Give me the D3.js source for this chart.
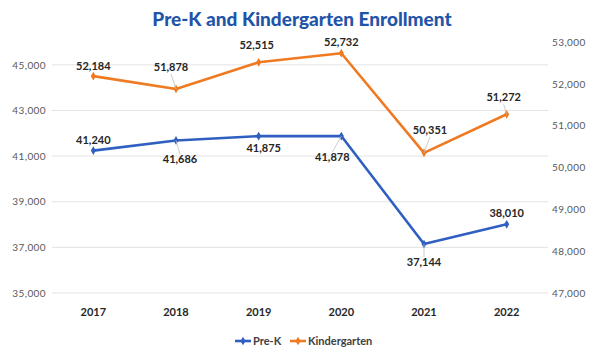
<!DOCTYPE html>
<html><head><meta charset="utf-8">
<script src="https://cdn.jsdelivr.net/npm/d3@7"></script>
<style>body{margin:0;background:#fff}svg{display:block}</style>
</head><body>
<svg id="c" width="600" height="357"></svg>
<script>
const years = ["2017","2018","2019","2020","2021","2022"];
const preK = [41240, 41686, 41875, 41878, 37144, 38010];
const kinder = [52184, 51878, 52515, 52732, 50351, 51272];
const leftTicks = [35000, 37000, 39000, 41000, 43000, 45000];
const rightTicks = [47000, 48000, 49000, 50000, 51000, 52000, 53000];
const title = "Pre-K and Kindergarten Enrollment";
// label offsets (layout only)
const preKOff = [[0,-7],[4,23],[5,16],[-9,25],[0,22],[0,-7]];
const kinderOff = [[0,-6],[-5,-18],[-2,-13],[0,-7],[6,-19],[-3,-13]];
const leaderPre = [false,true,false,true,true,false];
const leaderKin = [false,true,false,false,true,true];

const svg = d3.select("#c");
const W = 600, H = 357;
const m = {l:52, r:52, t:42, b:64};
const x = d3.scaleBand().domain(years).range([m.l, W-m.r]);
const yL = d3.scaleLinear().domain([35000, 46000]).range([H-m.b, m.t]);
const yR = d3.scaleLinear().domain([47000, 53000]).range([H-m.b, m.t]);
const cx = d => x(d) + x.bandwidth()/2;
const FONT = "Lato, 'Open Sans', sans-serif";
const BLUE = "#2f5fc0", ORANGE = "#ef7a22";

svg.append("text").attr("x", 302).attr("y", 26).attr("text-anchor","middle")
  .attr("font-family", FONT).attr("font-weight", 900).attr("font-size", 19)
  .attr("fill", "#1f55a8").text(title);

// grid
svg.append("g").selectAll("line").data(leftTicks).join("line")
  .attr("x1", m.l).attr("x2", W-m.r)
  .attr("y1", d=>yL(d)).attr("y2", d=>yL(d))
  .attr("stroke", "#e3e3e3").attr("stroke-width", 1);

// left axis
const la = svg.append("g").attr("transform", `translate(${m.l-6},0)`)
  .call(d3.axisLeft(yL).tickValues(leftTicks).tickSize(0).tickPadding(0).tickFormat(d3.format(",")));
la.select(".domain").remove();
la.selectAll("text").attr("font-family", FONT).attr("font-size", 10).attr("letter-spacing", 0.4).attr("fill", "#595959");

const ra = svg.append("g").attr("transform", `translate(${W-m.r+4},0)`)
  .call(d3.axisRight(yR).tickValues(rightTicks).tickSize(0).tickPadding(0).tickFormat(d3.format(",")));
ra.select(".domain").remove();
ra.selectAll("text").attr("font-family", FONT).attr("font-size", 10).attr("letter-spacing", 0.4).attr("fill", "#595959");

const xa = svg.append("g").attr("transform", `translate(0,${H-m.b+9})`)
  .call(d3.axisBottom(x).tickSize(0).tickPadding(6));
xa.select(".domain").remove();
xa.selectAll("text").attr("font-family", FONT).attr("font-weight", 700).attr("font-size", 11).attr("fill", "#262626");

function series(vals, y, color, off, leader) {
  const line = d3.line().x((d,i)=>cx(years[i])).y(d=>y(d));
  svg.append("path").datum(vals).attr("d", line).attr("fill","none")
    .attr("stroke", color).attr("stroke-width", 2.6).attr("stroke-linejoin","round");
  const sym = d3.symbol().type(d3.symbolDiamond).size(22);
  svg.append("g").selectAll("path").data(vals).join("path")
    .attr("transform", (d,i)=>`translate(${cx(years[i])},${y(d)})`)
    .attr("d", sym).attr("fill", color);
  const g = svg.append("g");
  vals.forEach((v,i)=>{
    const px = cx(years[i]), py = y(v);
    const lx = px + off[i][0], ly = py + off[i][1];
    if (leader[i]) {
      const ey = off[i][1] > 0 ? ly - 9 : ly + 3;
      g.append("line").attr("x1", px).attr("y1", py).attr("x2", lx).attr("y2", ey)
        .attr("stroke", "#bfbfbf").attr("stroke-width", 0.8);
    }
    g.append("text").attr("x", lx).attr("y", ly).attr("text-anchor","middle")
      .attr("font-family", FONT).attr("font-weight", 700).attr("font-size", 11)
      .attr("fill", "#262626").text(d3.format(",")(v));
  });
}
series(kinder, yR, ORANGE, kinderOff, leaderKin);
series(preK, yL, BLUE, preKOff, leaderPre);

// legend
const leg = svg.append("g").attr("transform", "translate(235,341)");
const items = [{n:"Pre-K", c:BLUE, x:0},{n:"Kindergarten", c:ORANGE, x:55}];
items.forEach(it=>{
  const gi = leg.append("g").attr("transform", `translate(${it.x},0)`);
  gi.append("line").attr("x1",0).attr("x2",16).attr("y1",0).attr("y2",0).attr("stroke",it.c).attr("stroke-width",2.6);
  gi.append("path").attr("transform","translate(8,0)").attr("d", d3.symbol().type(d3.symbolDiamond).size(22)).attr("fill",it.c);
  gi.append("text").attr("x",18).attr("y",4).attr("font-family",FONT).attr("font-weight",700)
    .attr("font-size",11).attr("fill","#404040").text(it.n);
});
</script>
</body></html>
